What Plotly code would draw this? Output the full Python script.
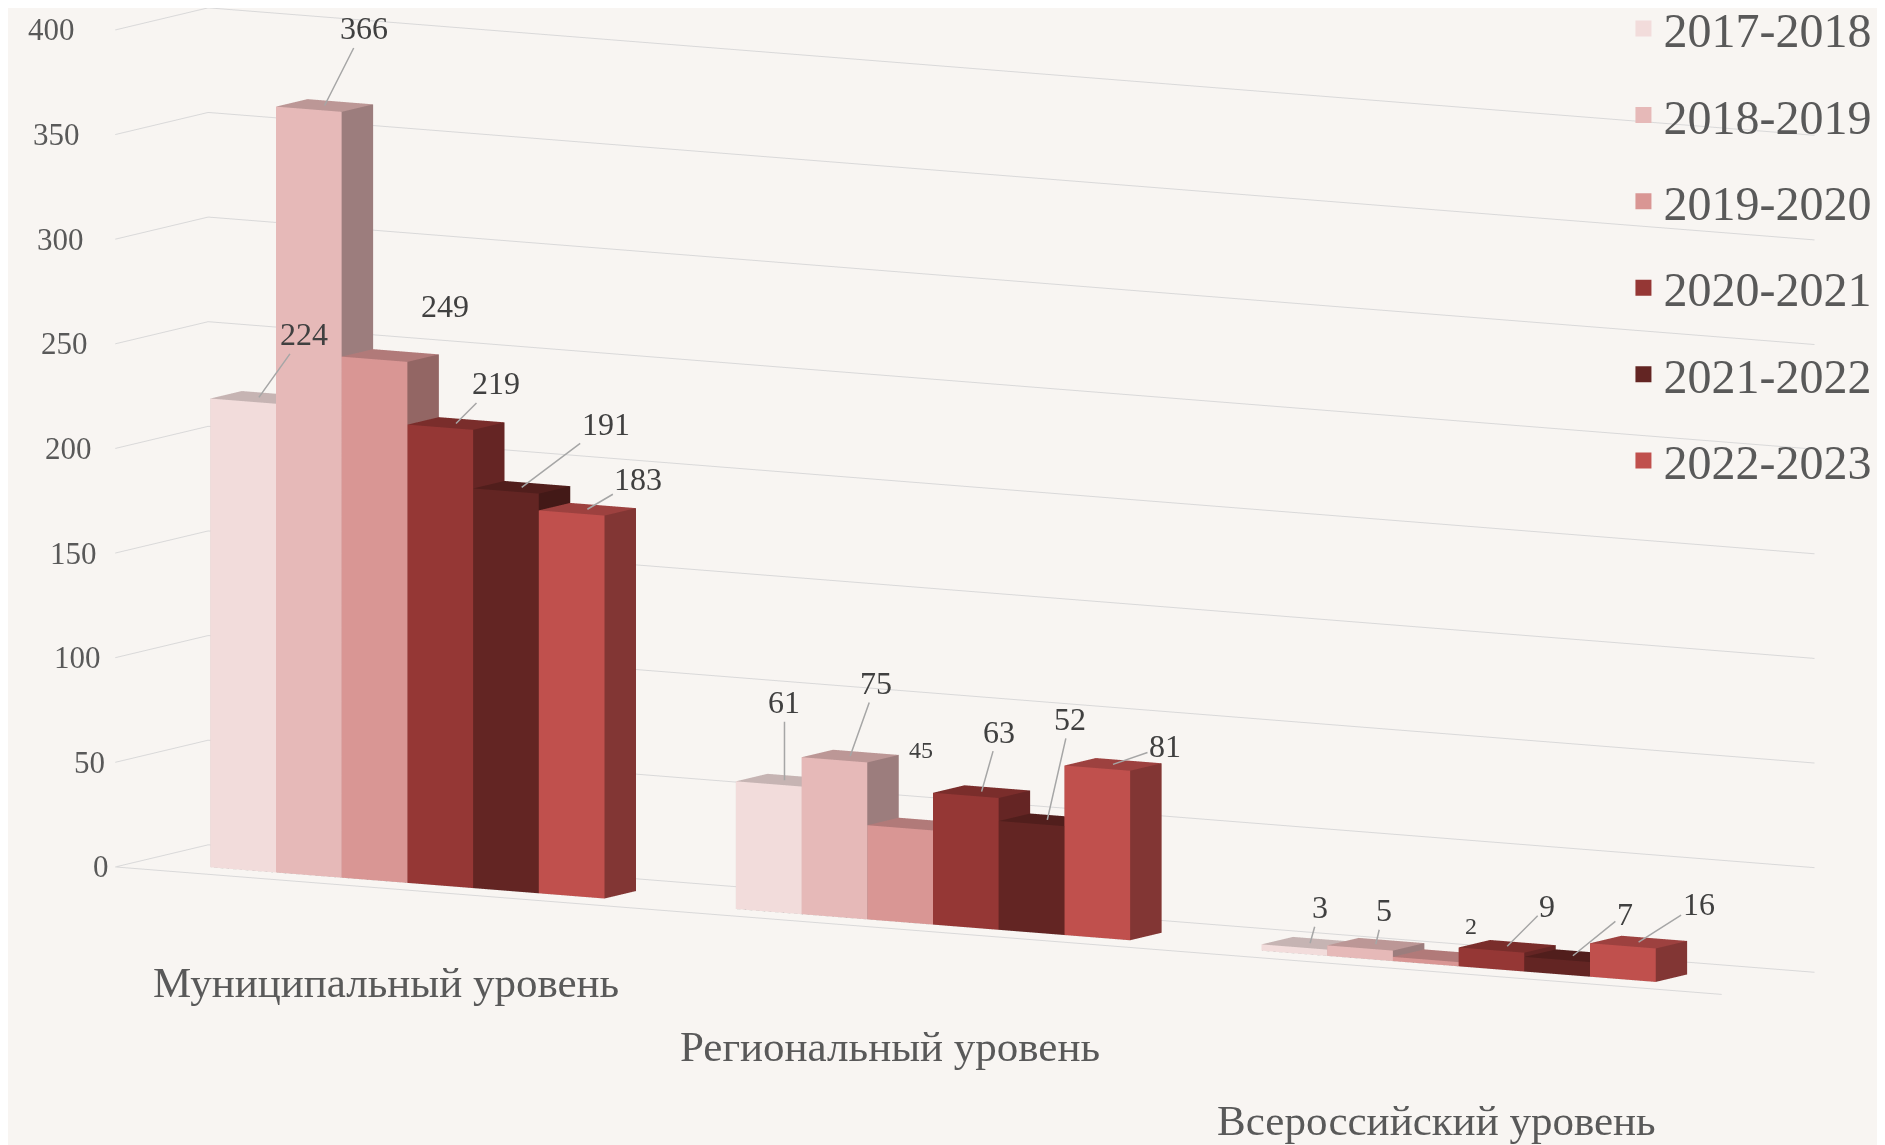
import math
import plotly.graph_objects as go

categories = ["Муниципальный уровень", "Региональный уровень", "Всероссийский уровень"]
series_names = ["2017-2018", "2018-2019", "2019-2020", "2020-2021", "2021-2022", "2022-2023"]
values = {
    "2017-2018": [224, 61, 3],
    "2018-2019": [366, 75, 5],
    "2019-2020": [249, 45, 2],
    "2020-2021": [219, 63, 9],
    "2021-2022": [191, 52, 7],
    "2022-2023": [183, 81, 16],
}
colors = ["#f2dcdb", "#e6b9b8", "#d99694", "#953735", "#632523", "#c0504d"]
y_ticks = [0, 50, 100, 150, 200, 250, 300, 350, 400]

GROUP_PITCH = 8
BAR_W = 1.0
Y0, Y1 = 0.6, 1.43
X_RANGE = [-1.1, 23.35]
Y_RANGE = [0, 2.45]
SERIF = "Liberation Serif"
TXT = "#595959"
BG = "#f8f5f2"


def shade(hex_color, f):
    h = hex_color.lstrip("#")
    r, g, b = int(h[0:2], 16), int(h[2:4], 16), int(h[4:6], 16)
    return "rgb(%d,%d,%d)" % (int(r * f), int(g * f), int(b * f))


fig = go.Figure()

for si, name in enumerate(series_names):
    xs, ys, zs, I, J, K, fc = [], [], [], [], [], [], []
    for gi, v in enumerate(values[name]):
        x0 = gi * GROUP_PITCH + si * BAR_W
        x1 = x0 + BAR_W
        base = len(xs)
        pts = [(x0, Y0, 0), (x1, Y0, 0), (x1, Y1, 0), (x0, Y1, 0),
               (x0, Y0, v), (x1, Y0, v), (x1, Y1, v), (x0, Y1, v)]
        for p in pts:
            xs.append(p[0]); ys.append(p[1]); zs.append(p[2])
        tris = [
            ((0, 1, 5), 1.0), ((0, 5, 4), 1.0),      # front
            ((1, 2, 6), 0.68), ((1, 6, 5), 0.68),    # right
            ((4, 5, 6), 0.82), ((4, 6, 7), 0.82),    # top
            ((3, 7, 6), 0.7), ((3, 6, 2), 0.7),      # back
            ((0, 4, 7), 0.9), ((0, 7, 3), 0.9),      # left
            ((0, 3, 2), 0.6), ((0, 2, 1), 0.6),      # bottom
        ]
        for (a, b, c), f in tris:
            I.append(base + a); J.append(base + b); K.append(base + c)
            fc.append(shade(colors[si], f))
    fig.add_trace(go.Mesh3d(
        x=xs, y=ys, z=zs, i=I, j=J, k=K, facecolor=fc,
        flatshading=True, showlegend=False, hoverinfo="skip",
        legendgroup=name,
        lighting=dict(ambient=1.0, diffuse=0.0, specular=0.0, roughness=1.0, fresnel=0.0),
        name=name,
    ))
    fig.add_trace(go.Scatter3d(
        x=[None], y=[None], z=[None], mode="markers", name=name,
        legendgroup=name,
        marker=dict(symbol="square", size=16, color=colors[si]),
        showlegend=True,
    ))

# data label placement (pixel offsets from the bar top; arrow = leader line)
label_offsets = {
    "2017-2018": [(45, -63, True), (0, -78, True), (10, -36, True)],
    "2018-2019": [(39, -77, True), (26, -73, True), (8, -34, True)],
    "2019-2020": [(55, -50, False), (5, -74, False), (30, -30, False)],
    "2020-2021": [(40, -40, True), (17, -60, True), (40, -40, True)],
    "2021-2022": [(84, -63, True), (23, -101, True), (52, -42, True)],
    "2022-2023": [(51, -30, True), (52, -18, True), (60, -38, True)],
}
small = {("2019-2020", 1), ("2019-2020", 2)}
annotations = []
for si, name in enumerate(series_names):
    for gi, v in enumerate(values[name]):
        xc = gi * GROUP_PITCH + si * BAR_W + BAR_W / 2
        yc = (Y0 + Y1) / 2
        ax, ay, arrow = label_offsets[name][gi]
        fsize = 24 if (name, gi) in small else 32
        a = dict(x=xc, y=yc, z=v, text=str(v),
                 font=dict(family=SERIF, size=fsize, color="#404040"))
        if arrow:
            a.update(showarrow=True, arrowhead=0, arrowwidth=1.5, arrowcolor="#a6a6a6",
                     ax=ax, ay=ay, standoff=0, startstandoff=0)
        else:
            a.update(showarrow=False, xshift=ax, yshift=-ay)
        annotations.append(a)

# value-axis tick labels
for t in y_ticks:
    annotations.append(dict(x=X_RANGE[0], y=Y_RANGE[0], z=t, text=str(t), showarrow=False,
                            xanchor="right", xshift=-4 - 34 * t / 400,
                            font=dict(family=SERIF, size=31, color=TXT)))
# category labels
cat_shift = [(1, -94), (-20, -116), (1, -149)]
for gi, c in enumerate(categories):
    annotations.append(dict(x=gi * GROUP_PITCH + 3, y=Y_RANGE[0], z=0, text=c, showarrow=False,
                            xshift=cat_shift[gi][0], yshift=cat_shift[gi][1],
                            font=dict(family=SERIF, size=43, color=TXT)))

axis_common = dict(showbackground=False, zeroline=False, title=dict(text=""),
                   showspikes=False, showticklabels=False, ticks="")

theta = math.radians(30)
phi = math.radians(7.9)
r = 1.6
center = dict(x=-0.0218, y=-0.0126, z=-0.140)
eye = dict(x=center["x"] + r * math.sin(theta) * math.cos(phi),
           y=center["y"] - r * math.cos(theta) * math.cos(phi),
           z=center["z"] + r * math.sin(phi))

ar_x = 3.24
fig.update_layout(
    width=1885, height=1145,
    paper_bgcolor=BG, plot_bgcolor=BG,
    margin=dict(l=0, r=0, t=0, b=0, autoexpand=False),
    showlegend=True,
    legend=dict(x=0.857, xanchor="left", y=1.015, yanchor="top",
                font=dict(family=SERIF, size=48, color=TXT),
                tracegroupgap=21, bgcolor="rgba(0,0,0,0)"),
    scene=dict(
        domain=dict(x=[0, 1], y=[0, 1]),
        bgcolor=BG,
        xaxis=dict(axis_common, range=X_RANGE, showgrid=False, showline=True,
                   linecolor="#d9d9d9", linewidth=2),
        yaxis=dict(axis_common, range=Y_RANGE, showgrid=False, showline=False),
        zaxis=dict(axis_common, range=[0, 400], tickvals=y_ticks,
                   showgrid=True, gridcolor="#d9d9d9", gridwidth=2, showline=False),
        aspectmode="manual",
        aspectratio=dict(x=ar_x, y=ar_x * (Y_RANGE[1] - Y_RANGE[0]) / (X_RANGE[1] - X_RANGE[0]), z=1.476),
        camera=dict(eye=eye, center=center,
                    up=dict(x=0, y=0, z=1),
                    projection=dict(type="orthographic")),
        annotations=annotations,
    ),
)

fig.write_html("out.html")
